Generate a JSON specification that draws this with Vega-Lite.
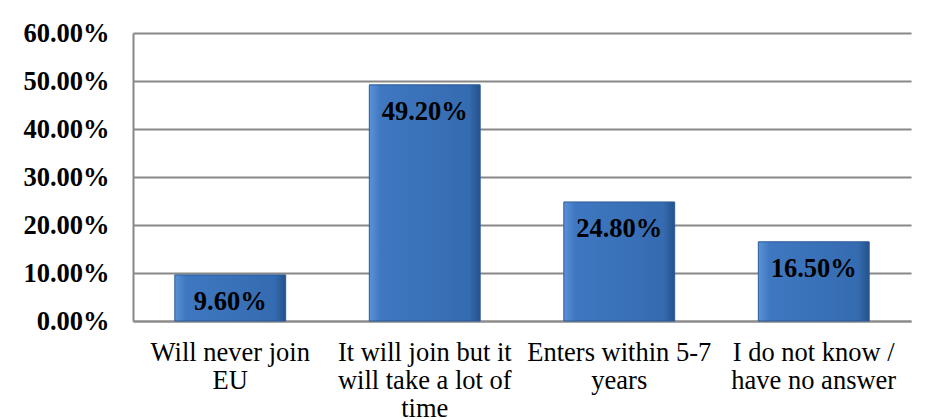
{
  "$schema": "https://vega.github.io/schema/vega-lite/v6.json",
  "width": 778,
  "height": 288,
  "autosize": {"type": "none"},
  "padding": {"left": 133, "top": 33, "right": 17, "bottom": 98},
  "background": "#ffffff",
  "data": {
    "values": [
      {"answer": "Will never join|EU", "share": 0.096},
      {"answer": "It will join but it|will take a lot of|time", "share": 0.492},
      {"answer": "Enters within 5-7|years", "share": 0.248},
      {"answer": "I do not know /|have no answer", "share": 0.165}
    ]
  },
  "config": {
    "view": {"stroke": null},
    "font": "Liberation Serif"
  },
  "encoding": {
    "x": {
      "field": "answer",
      "type": "nominal",
      "sort": null,
      "scale": {"paddingInner": 0.43, "paddingOuter": 0.215},
      "axis": {
        "title": null,
        "labelAngle": 0,
        "labelExpr": "split(datum.value, '|')",
        "labelFont": "Liberation Serif",
        "labelFontSize": 26.5,
        "labelLineHeight": 28,
        "labelColor": "#000000",
        "labelPadding": 18,
        "labelLimit": 0,
        "ticks": false,
        "domainColor": "#8c8c8c",
        "domainWidth": 2,
        "grid": false
      }
    },
    "y": {
      "field": "share",
      "type": "quantitative",
      "scale": {"domain": [0, 0.6], "nice": false},
      "axis": {
        "title": null,
        "values": [0, 0.1, 0.2, 0.3, 0.4, 0.5, 0.6],
        "format": ".2%",
        "labelFont": "Liberation Serif",
        "labelFontSize": 26.5,
        "labelFontWeight": "bold",
        "labelColor": "#000000",
        "labelPadding": 24,
        "ticks": false,
        "domainColor": "#888888",
        "domainWidth": 2,
        "grid": true,
        "gridColor": "#888888",
        "gridWidth": 2
      }
    }
  },
  "layer": [
    {
      "mark": {
        "type": "bar",
        "stroke": "#2a5a96",
        "strokeWidth": 1,
        "color": {
          "gradient": "linear",
          "x1": 0, "y1": 0, "x2": 1, "y2": 0,
          "stops": [
            {"offset": 0, "color": "#5b93d8"},
            {"offset": 0.1, "color": "#3f78c1"},
            {"offset": 0.9, "color": "#356bb0"},
            {"offset": 1, "color": "#24528c"}
          ]
        }
      }
    },
    {
      "mark": {
        "type": "text",
        "baseline": "middle",
        "align": "center",
        "dy": 27,
        "font": "Liberation Serif",
        "fontSize": 26.5,
        "fontWeight": "bold",
        "color": "#000000"
      },
      "encoding": {
        "text": {"field": "share", "type": "quantitative", "format": ".2%"}
      }
    }
  ]
}
